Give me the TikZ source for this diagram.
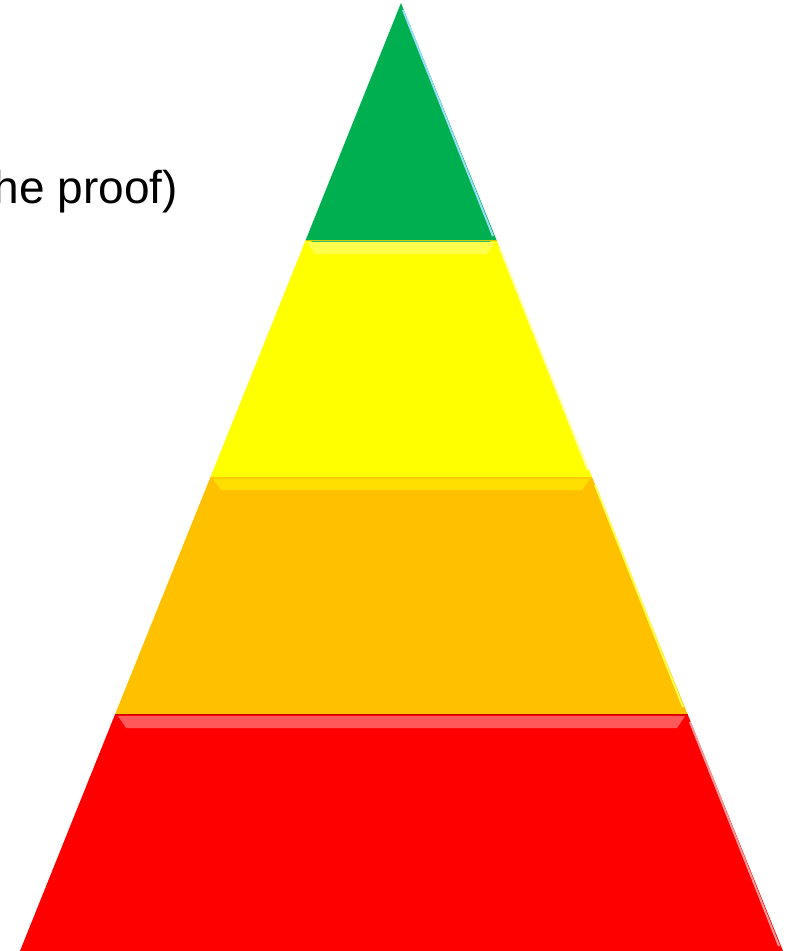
\documentclass[tikz,border=0pt]{standalone}
\usepackage{fontspec}
\setmainfont{Liberation Sans}
\definecolor{pgreen}{HTML}{00B050}
\definecolor{pyellow}{HTML}{FFFF00}
\definecolor{porange}{HTML}{FFC000}
\definecolor{pred}{HTML}{FF0000}
\begin{document}
\begin{tikzpicture}[x=1pt,y=-1pt,
  layer/.style={fill=#1,draw=none},
  rimlight/.style={draw=#1,line width=2pt},
  bandlight/.style={fill=#1},
  label/.style={font=\fontsize{46}{55}\selectfont,inner sep=0pt,anchor=base east}]
\useasboundingbox (0,0) rectangle (797,951);
% layers
\path[layer=pgreen] (401,3) -- (496.5,240) -- (305.7,240) -- cycle;
\path[layer=pyellow] (305.7,240) -- (496.5,240) -- (592,477) -- (210.5,477) -- cycle;
\path[layer=porange] (210.5,477) -- (592,477) -- (687.5,714) -- (115.2,714) -- cycle;
\path[layer=pred] (115.2,714) -- (687.5,714) -- (783,951) -- (20,951) -- cycle;
% bevel highlights: top bands
\path[bandlight=pgreen!80!white] (311,240) -- (491,240) -- (487,250) -- (315,250) -- cycle;
\path[bandlight=pyellow!70!white] (307,242) -- (495,242) -- (487,254) -- (315,254) -- cycle;
\path[bandlight=porange!50!pyellow] (213,479) -- (590,479) -- (582,490) -- (221,490) -- cycle;
\path[bandlight=pred!65!white] (118,716) -- (685,716) -- (677,728) -- (126,728) -- cycle;
\draw[porange!80!pyellow,line width=2pt] (210.5,477.5) -- (592,477.5);
\draw[pred!80!black,line width=1.5pt] (115.2,714.5) -- (687.5,714.5);
\draw[pyellow!80!black,line width=1pt] (305.7,240.5) -- (496.5,240.5);
% bevel highlights: right edges
\draw[rimlight=cyan!40!white] (403,10) -- (493,236);
\draw[rimlight=white!70!pyellow] (500,248) -- (588,470);
\draw[rimlight=pyellow!70!white] (595,485) -- (683,707);
\draw[rimlight=pred!40!white] (690,722) -- (779,946);
% text
\begin{scope}
\clip (0,0) rectangle (797,951);
\node[label] (proof) at (178,203) {the proof)};
\end{scope}
\end{tikzpicture}
\end{document}
